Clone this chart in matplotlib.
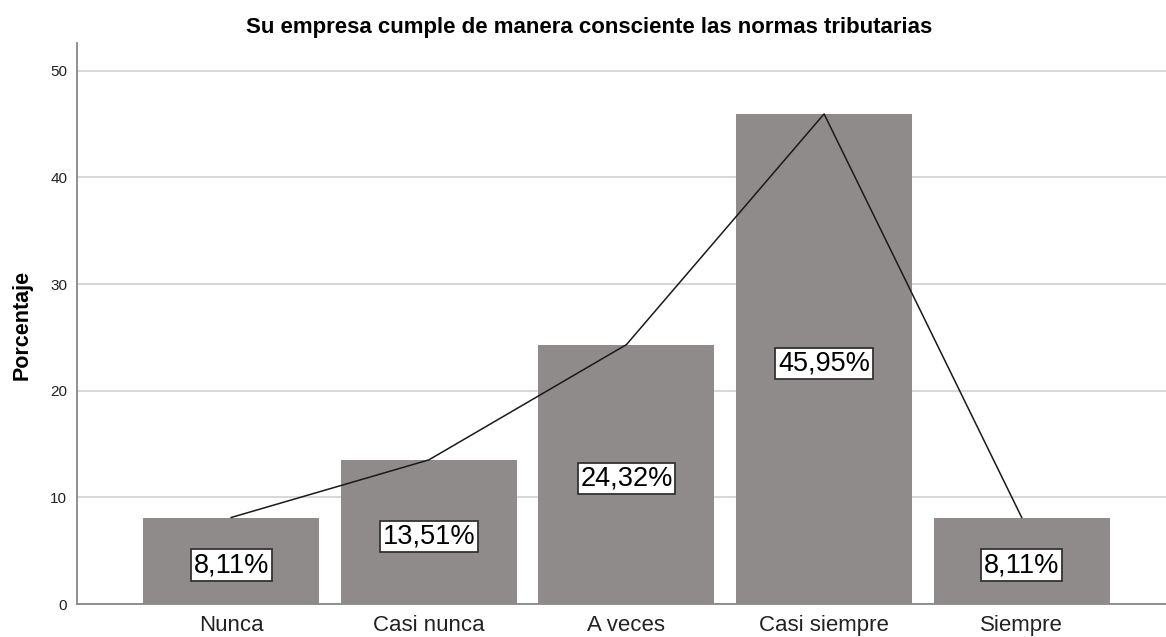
import matplotlib
matplotlib.use("Agg")
import matplotlib.pyplot as plt
import numpy as np

categories = ["Nunca", "Casi nunca", "A veces", "Casi siempre", "Siempre"]
percentages = [8.11, 13.51, 24.32, 45.95, 8.11]
labels = ["8,11%", "13,51%", "24,32%", "45,95%", "8,11%"]
yticks = [0, 10, 20, 30, 40, 50]
title = "Su empresa cumple de manera consciente las normas tributarias"
ylabel = "Porcentaje"

plt.rcParams['font.family'] = ['Liberation Sans', 'DejaVu Sans']

fig = plt.figure(figsize=(11.66, 6.37), dpi=100)
ax = fig.add_axes([77/1166, 33/637, 1 - 77/1166, (604-43)/637])

x = np.arange(len(categories))
ax.bar(x, percentages, width=0.89, color="#8f8b8a", zorder=2)
ax.plot(x, percentages, color="#1a1a1a", lw=1.1, zorder=3)

for xi, v, lab in zip(x, percentages, labels):
    ax.text(xi, v/2 - 0.4, lab, ha="center", va="center", fontsize=19.5, color="black", zorder=4,
            bbox=dict(boxstyle="square,pad=0.1", fc="white", ec="#333333", lw=1.3))

ax.set_xlim(-0.78, 4.73)
ax.set_ylim(0, 52.6)
ax.set_yticks(yticks)
ax.set_xticks(x)
ax.set_xticklabels(categories, fontsize=16)
ax.tick_params(axis="both", length=0, colors="#222222")
ax.tick_params(axis="y", labelsize=11, pad=7)
ax.tick_params(axis="x", pad=8)
ax.yaxis.grid(True, color="#d4d4d4", lw=1.3, zorder=0)
ax.set_axisbelow(True)
for s in ["top", "right"]:
    ax.spines[s].set_visible(False)
ax.spines["left"].set_color("#888888")
ax.spines["bottom"].set_color("#888888")
ax.spines["left"].set_linewidth(1.3)
ax.spines["bottom"].set_linewidth(1.3)

fig.text(589/1166, 1 - 28/637, title, ha="center", va="center", fontsize=16, fontweight="bold")
fig.text(22/1166, 1 - 325/637, ylabel, ha="center", va="center", rotation=90, fontsize=15.5, fontweight="bold")

fig.savefig("out.png", dpi=100)
